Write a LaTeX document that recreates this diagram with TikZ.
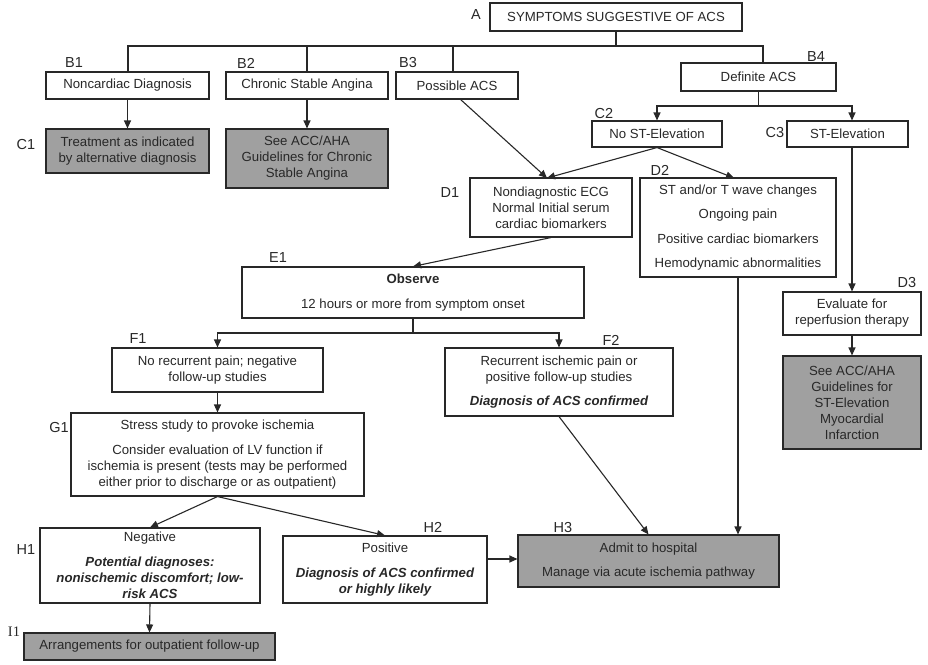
\documentclass[tikz,border=0pt]{standalone}
\usepackage{fontspec}
\setmainfont{Liberation Sans}
\newfontfamily\serifI{Liberation Serif}
\usetikzlibrary{arrows.meta,calc}
\definecolor{boxgray}{RGB}{160,160,160}
\definecolor{ink}{RGB}{40,40,40}
\newcommand\bi{\bfseries\itshape}
\begin{document}
\begin{tikzpicture}[x=1pt,y=-1pt,
  box/.style={draw=ink, line width=1.1pt, fill=white, inner sep=0pt, align=center, text=ink,
              font=\fontsize{13.2}{16}\selectfont},
  gbox/.style={box, fill=boxgray},
  lab/.style={font=\fontsize{14.5}{16}\selectfont, inner sep=0pt, text=ink},
  conn/.style={draw=ink, line width=1.1pt},
  arr/.style={conn, -{Triangle[length=8pt,width=7pt]}},
]
\useasboundingbox (0,0) rectangle (928,664);

% ---- nodes ----
\node[box, minimum width=252pt, minimum height=28pt] (A) at (616,17) {SYMPTOMS SUGGESTIVE OF ACS};

\node[box, minimum width=163pt, minimum height=27pt] (B1) at (127.5,85.5) {Noncardiac Diagnosis};
\node[box, minimum width=162pt, minimum height=27pt] (B2) at (307,85.5) {Chronic Stable Angina};
\node[box, minimum width=122pt, minimum height=27pt] (B3) at (457,85.5) {Possible ACS};
\node[box, minimum width=155pt, minimum height=28pt] (B4) at (758.5,77) {Definite ACS};

\node[gbox, minimum width=163pt, minimum height=44pt] (C1) at (127.5,151) {Treatment as indicated\\by alternative diagnosis};
\node[gbox, minimum width=162pt, minimum height=59pt] (SCA) at (307,158.5) {See ACC/AHA\\Guidelines for Chronic\\Stable Angina};
\node[box, minimum width=130pt, minimum height=26pt] (C2) at (657,134) {No ST-Elevation};
\node[box, minimum width=121pt, minimum height=26pt] (C3) at (847.5,134) {ST-Elevation};

\node[box, minimum width=162pt, minimum height=59pt] (D1) at (551,207.5) {Nondiagnostic ECG\\Normal Initial serum\\cardiac biomarkers};
\node[box, minimum width=196pt, minimum height=99pt] (D2) at (738,227.5) {ST and/or T wave changes\\[8.5pt]Ongoing pain\\[8.5pt]Positive cardiac biomarkers\\[8.5pt]Hemodynamic abnormalities};
\node[box, minimum width=138pt, minimum height=43pt] (D3) at (852,313.5) {Evaluate for\\reperfusion therapy};
\node[gbox, minimum width=138pt, minimum height=93pt] (STEMI) at (852,402.5) {See ACC/AHA\\Guidelines for\\ST-Elevation\\Myocardial\\Infarction};

\node[box, minimum width=342pt, minimum height=51pt] (E1) at (413,292.5) {\bfseries Observe\\[8.5pt]12 hours or more from symptom onset};

\node[box, minimum width=211pt, minimum height=44pt] (F1) at (217.5,370) {No recurrent pain; negative\\follow-up studies};
\node[box, minimum width=228pt, minimum height=68pt] (F2) at (559,382) {Recurrent ischemic pain or\\positive follow-up studies\\[8.5pt]\bi Diagnosis of ACS confirmed};

\node[box, minimum width=293pt, minimum height=83pt] (G1) at (217.5,454.5) {Stress study to provoke ischemia\\[8.5pt]Consider evaluation of LV function if\\ischemia is present (tests may be performed\\either prior to discharge or as outpatient)};

\node[box, minimum width=220pt, minimum height=75pt] (H1) at (150,565.5) {Negative\\[8.5pt]\bi Potential diagnoses:\\\bi nonischemic discomfort; low-\\\bi risk ACS};
\node[box, minimum width=204pt, minimum height=67pt] (H2) at (385,569.5) {Positive\\[8.5pt]\bi Diagnosis of ACS confirmed\\\bi or highly likely};
\node[gbox, minimum width=261pt, minimum height=52pt] (H3) at (648.5,561) {Admit to hospital\\[8.5pt]Manage via acute ischemia pathway};

\node[gbox, minimum width=251pt, minimum height=27pt] (I1) at (149.5,646.5) {Arrangements for outpatient follow-up};

% ---- labels ----
\node[lab] (lA) at (476,15) {A};
\node[lab] (lB1) at (74,63) {B1};
\node[lab] (lB2) at (246,63) {B2};
\node[lab] (lB3) at (408,63) {B3};
\node[lab] (lB4) at (816,57) {B4};
\node[lab] (lC1) at (26,145) {C1};
\node[lab] (lC2) at (604,114) {C2};
\node[lab] (lC3) at (775,133) {C3};
\node[lab] (lD1) at (450,193) {D1};
\node[lab] (lD2) at (660,170) {D2};
\node[lab] (lD3) at (907,283) {D3};
\node[lab] (lE1) at (278,258) {E1};
\node[lab] (lF1) at (138,339) {F1};
\node[lab] (lF2) at (611,340) {F2};
\node[lab] (lG1) at (59,428) {G1};
\node[lab] (lH1) at (26,550) {H1};
\node[lab] (lH2) at (433,527) {H2};
\node[lab] (lH3) at (563,527) {H3};
\node[lab, font=\serifI\fontsize{14.5}{16}\selectfont] (lI1) at (14,632) {I1};

% ---- connectors ----
\coordinate (busL) at (128,46);
\coordinate (busR) at (763,46);
\draw[conn] (A.south) -- (A.south |- busL);
\draw[conn] (busL |- B1.north) -- (busL) -- (busR) -- (busR |- B4.north);
\draw[conn] (B2.north) -- (B2.north |- busL);
\coordinate (b3top) at (453,46);
\draw[conn] (b3top |- B3.north) -- (b3top);

\draw[arr] (B1.south) -- (C1.north);
\draw[arr] (B2.south) -- (SCA.north);

\coordinate (b4L) at (657,106);
\coordinate (b4R) at (852,106);
\draw[conn] (B4.south) -- (B4.south |- b4L);
\draw[arr] (b4L -| B4.south) -- (b4L) -- (C2.north);
\draw[arr] (b4L -| B4.south) -- (b4R) -- (b4R |- C3.north);

\coordinate (b3out) at (460,99);
\coordinate (d1in) at (547,178);
\coordinate (d2in) at (734,178);
\draw[arr] (b3out) -- (d1in);
\draw[arr] (C2.south) -- (d1in);
\draw[arr] (C2.south) -- (d2in);

\draw[arr] (D1.south) -- (E1.north);

\coordinate (eL) at (217.5,333);
\coordinate (eR) at (559,333);
\draw[conn] (E1.south) -- (E1.south |- eL);
\draw[arr] (E1.south |- eL) -- (eL) -- (F1.north);
\draw[arr] (E1.south |- eL) -- (eR) -- (F2.north);

\draw[arr] (F1.south) -- (G1.north);
\draw[arr] (G1.south) -- (H1.north);
\draw[arr] (G1.south) -- (H2.north);
\draw[arr] (H1.south) -- (I1.north);

\draw[arr] (H2.east |- 0,559) -- (H3.west |- 0,559);
\draw[arr] (F2.south) -- (H3.north);
\draw[arr] (D2.south) -- (D2.south |- H3.north);

\draw[arr] (C3.south -| D3.north) -- (D3.north);
\draw[arr] (D3.south) -- (STEMI.north);
\end{tikzpicture}
\end{document}
